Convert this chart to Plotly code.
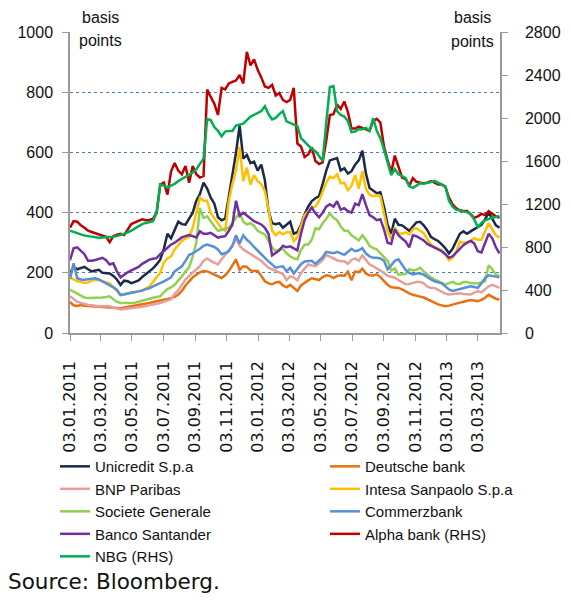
import pandas as pd
import plotly.graph_objects as go

START_DATE = "2011-01-03"
N_WEEKS = 120
dates = pd.date_range(START_DATE, periods=N_WEEKS, freq="7D")

unicredit = [199, 220, 212, 215, 220, 212, 205, 208, 210, 200,
             199, 198, 190, 178, 160, 174, 172, 166, 170, 175,
             186, 195, 204, 215, 228, 244, 280, 330, 315, 340,
             370, 362, 360, 380, 400, 440, 462, 500, 480, 450,
             430, 385, 375, 380, 450, 520, 600, 690, 580, 592,
             565, 570, 540, 560, 508, 405, 365, 362, 365, 350,
             360, 370, 330, 335, 360, 395, 420, 439, 448, 455,
             495, 540, 574, 578, 582, 540, 548, 530, 538, 560,
             574, 606, 530, 482, 472, 465, 468, 420, 360, 330,
             380, 360, 358, 350, 340, 354, 368, 370, 358, 342,
             320, 312, 306, 295, 282, 265, 280, 305, 330, 338,
             330, 338, 345, 352, 360, 378, 400, 380, 358, 350]

deutsche = [103, 92, 90, 93, 91, 90, 89, 88, 87, 87,
            86, 85, 85, 84, 82, 85, 87, 88, 90, 92,
            94, 97, 100, 103, 105, 107, 110, 113, 116, 120,
            128, 140, 158, 172, 185, 194, 202, 206, 205, 200,
            194, 188, 183, 192, 206, 225, 245, 210, 222, 220,
            208, 206, 206, 190, 172, 165, 162, 168, 170, 158,
            152, 160, 150, 140, 158, 168, 175, 182, 178, 176,
            186, 192, 190, 183, 190, 192, 190, 204, 175, 205,
            202, 214, 198, 192, 191, 195, 186, 172, 160, 152,
            150, 150, 145, 138, 132, 127, 123, 121, 118, 112,
            107, 101, 95, 92, 89, 91, 95, 98, 101, 104,
            107, 110, 108, 106, 110, 117, 127, 120, 114, 111]

bnp = [122, 112, 104, 100, 96, 93, 92, 90, 89, 89,
       89, 89, 85, 82, 78, 80, 82, 83, 84, 86,
       87, 89, 92, 95, 97, 100, 104, 108, 112, 130,
       142, 160, 178, 190, 200, 212, 222, 240, 248, 240,
       234, 228, 245, 260, 272, 290, 315, 290, 278, 270,
       263, 255, 248, 240, 228, 217, 212, 206, 200, 196,
       176, 188, 185, 175, 200, 216, 228, 225, 222, 232,
       242, 260, 254, 248, 242, 239, 239, 230, 243, 248,
       240, 258, 242, 228, 222, 215, 208, 200, 190, 188,
       184, 176, 168, 162, 163, 167, 170, 170, 165, 154,
       150, 150, 144, 139, 131, 128, 129, 132, 132, 130,
       128, 128, 134, 139, 135, 145, 155, 160, 156, 150]

intesa = [185, 178, 172, 170, 167, 168, 175, 176, 177, 172,
          168, 165, 152, 138, 127, 130, 133, 135, 136, 138,
          142, 148, 155, 170, 185, 200, 235, 248, 255, 278,
          292, 306, 314, 320, 350, 400, 450, 440, 440, 398,
          380, 362, 348, 340, 440, 495, 540, 620, 505, 550,
          494, 525, 505, 495, 472, 410, 340, 325, 336, 328,
          335, 335, 305, 320, 355, 392, 405, 417, 420, 440,
          470, 500, 520, 515, 528, 498, 500, 475, 490, 525,
          480, 539, 478, 460, 455, 458, 455, 400, 340, 312,
          350, 332, 330, 335, 328, 345, 348, 340, 332, 312,
          294, 286, 280, 275, 262, 242, 250, 270, 304, 300,
          302, 306, 315, 310, 310, 339, 365, 345, 325, 317]

societe = [144, 138, 132, 125, 118, 116, 116, 116, 116, 118,
           120, 122, 112, 104, 100, 100, 100, 100, 101, 104,
           108, 111, 114, 117, 120, 122, 135, 146, 152, 160,
           175, 188, 205, 218, 255, 300, 415, 383, 388, 370,
           355, 340, 342, 346, 350, 366, 383, 400, 370, 361,
           365, 356, 340, 334, 328, 306, 285, 272, 278, 280,
           265, 255, 248, 245, 276, 294, 294, 310, 348, 345,
           365, 380, 398, 383, 375, 355, 340, 340, 325, 317,
           308, 325, 310, 290, 282, 278, 265, 254, 240, 208,
           215, 194, 194, 196, 212, 208, 210, 217, 205, 194,
           185, 178, 172, 166, 161, 166, 170, 164, 163, 170,
           170, 166, 165, 165, 168, 172, 225, 212, 194, 190]

commerzbank = [180, 232, 182, 178, 177, 178, 180, 182, 178, 172,
               166, 160, 152, 144, 126, 128, 132, 134, 136, 138,
               141, 146, 149, 155, 160, 166, 172, 178, 185, 205,
               215, 222, 240, 260, 265, 272, 280, 290, 294, 290,
               286, 278, 262, 266, 272, 290, 325, 298, 325, 310,
               300, 286, 275, 262, 250, 238, 228, 217, 220, 222,
               205, 217, 198, 212, 229, 238, 238, 240, 230, 240,
               252, 270, 268, 265, 270, 266, 260, 270, 280, 272,
               275, 282, 264, 255, 250, 250, 248, 240, 212, 225,
               240, 245, 228, 210, 200, 195, 198, 198, 194, 185,
               178, 172, 168, 165, 155, 145, 140, 143, 146, 150,
               152, 155, 153, 150, 165, 183, 192, 190, 188, 185]

santander = [242, 282, 285, 275, 262, 240, 240, 243, 246, 250,
             242, 228, 232, 205, 185, 195, 202, 208, 214, 220,
             230, 238, 244, 247, 249, 262, 272, 284, 294, 300,
             310, 318, 322, 326, 322, 318, 338, 330, 330, 333,
             325, 317, 320, 322, 340, 360, 440, 390, 400, 390,
             380, 372, 366, 361, 350, 330, 258, 268, 275, 290,
             285, 288, 280, 275, 330, 375, 400, 417, 398, 385,
             400, 420, 428, 420, 438, 410, 415, 405, 400, 430,
             425, 462, 425, 392, 385, 375, 378, 345, 300, 296,
             345, 325, 314, 304, 285, 325, 322, 316, 308, 296,
             290, 284, 278, 272, 262, 250, 255, 268, 282, 292,
             300, 306, 298, 272, 268, 300, 330, 315, 285, 265]

alpha_rhs = [980, 1042, 1036, 1002, 980, 952, 941, 930, 918, 910,
             896, 846, 902, 916, 924, 913, 966, 1014, 1030, 1042,
             1058, 1050, 1053, 1064, 1120, 1383, 1400, 1288, 1506, 1582,
             1512, 1478, 1554, 1400, 1554, 1478, 1448, 1462, 2268, 2198,
             2134, 2030, 2282, 2268, 2324, 2338, 2352, 2402, 2324, 2618,
             2492, 2548, 2450, 2380, 2296, 2282, 2310, 2212, 2234, 2170,
             2150, 2170, 2282, 1764, 1736, 1638, 1663, 1728, 1602, 1574,
             1588, 1792, 2030, 2038, 2128, 2086, 2156, 2058, 1904, 1904,
             1921, 1910, 1898, 1882, 1974, 1994, 1960, 1736, 1610, 1498,
             1652, 1540, 1448, 1434, 1372, 1442, 1408, 1400, 1394, 1400,
             1414, 1400, 1383, 1383, 1361, 1260, 1198, 1162, 1142, 1137,
             1137, 1106, 1072, 1086, 1109, 1098, 1134, 1109, 1086, 1072]

nbg_rhs = [952, 941, 924, 916, 907, 902, 896, 890, 888, 890,
           890, 890, 896, 902, 910, 924, 938, 952, 974, 997,
           1014, 1025, 1036, 1042, 1120, 1383, 1372, 1355, 1372, 1389,
           1414, 1434, 1448, 1473, 1495, 1526, 1574, 1624, 1991, 1982,
           1918, 1882, 1831, 1876, 1882, 1882, 1932, 1938, 1949, 1982,
           2016, 2030, 2050, 2066, 2111, 2038, 1988, 2002, 2038, 2066,
           1971, 1954, 1943, 1926, 1814, 1778, 1742, 1714, 1694, 1652,
           1602, 1960, 2290, 2300, 2066, 2030, 2016, 1974, 1870, 1876,
           1898, 1898, 1910, 1882, 2002, 1882, 1814, 1708, 1582, 1470,
           1526, 1478, 1462, 1442, 1366, 1352, 1372, 1394, 1389, 1394,
           1406, 1417, 1400, 1383, 1366, 1232, 1176, 1148, 1142, 1134,
           1126, 1106, 1058, 986, 1025, 1050, 1064, 1075, 1081, 1089]

# (name, values, colour, axis, legend column)
series = [
    ("Unicredit S.p.a", unicredit, "#1b2a47", "y", "legend"),
    ("Deutsche bank", deutsche, "#e8700e", "y", "legend2"),
    ("BNP Paribas", bnp, "#e6a09c", "y", "legend"),
    ("Intesa Sanpaolo S.p.a", intesa, "#ffc000", "y", "legend2"),
    ("Societe Generale", societe, "#92d050", "y", "legend"),
    ("Commerzbank", commerzbank, "#5590d8", "y", "legend2"),
    ("Banco Santander", santander, "#7030a0", "y", "legend"),
    ("Alpha bank (RHS)", alpha_rhs, "#c00000", "y2", "legend2"),
    ("NBG (RHS)", nbg_rhs, "#00b050", "y2", "legend"),
]

fig = go.Figure()
for name, vals, color, ax, leg in series:
    fig.add_trace(go.Scatter(x=dates, y=vals, name=name, mode="lines",
                             line=dict(color=color, width=2.5), yaxis=ax,
                             legend=leg))

axis_col = "#9a9a9a"
txt_col = "#111111"
leg_font = dict(family="Liberation Sans", size=15, color=txt_col)
fig.update_layout(
    width=563, height=601,
    margin=dict(l=62, r=71, t=24, b=276, autoexpand=False),
    paper_bgcolor="white", plot_bgcolor="white",
    showlegend=True,
    xaxis=dict(type="date", range=["2011-01-03", "2013-04-16"],
               tick0="2011-01-03", dtick="M2", tickformat="%d.%m.%Y",
               tickangle=-90, ticks="outside", ticklen=6, tickcolor=axis_col,
               showline=True, linecolor=axis_col, linewidth=1.5,
               showgrid=False, zeroline=False, automargin=False,
               tickfont=dict(family="DejaVu Sans", size=16, color=txt_col),
               ticklabelstandoff=14),
    yaxis=dict(range=[0, 1001], tickvals=[0, 200, 400, 600, 800, 1000],
               ticks="outside", ticklen=6,
               tickcolor=axis_col, showline=True, linecolor=axis_col, linewidth=1.5,
               showgrid=True, gridcolor="#4a7ebb", griddash="dot", gridwidth=1,
               zeroline=False, automargin=False,
               tickfont=dict(family="Liberation Sans", size=16, color=txt_col),
               ticklabelstandoff=6),
    yaxis2=dict(range=[0, 2802.8], tickvals=[0, 400, 800, 1200, 1600, 2000, 2400, 2800],
                overlaying="y", side="right",
                ticks="outside", ticklen=6, tickcolor=axis_col,
                showline=True, linecolor=axis_col, linewidth=1.5,
                showgrid=False, zeroline=False, automargin=False,
                tickfont=dict(family="Liberation Sans", size=16, color=txt_col),
                ticklabelstandoff=14),
    legend=dict(orientation="v", x=-0.035, xanchor="left", y=-0.389, yanchor="top",
                itemwidth=30, font=leg_font, bgcolor="rgba(0,0,0,0)",
                tracegroupgap=0, traceorder="normal"),
    legend2=dict(orientation="v", x=0.593, xanchor="left", y=-0.389, yanchor="top",
                 itemwidth=30, font=leg_font, bgcolor="rgba(0,0,0,0)",
                 tracegroupgap=0, traceorder="normal"),
    annotations=[
        dict(text="basis", xref="paper", yref="paper", x=0.070, y=1.0498,
             xanchor="center", yanchor="middle", showarrow=False,
             font=dict(family="Liberation Sans", size=16, color=txt_col)),
        dict(text="points", xref="paper", yref="paper", x=0.072, y=0.9734,
             xanchor="center", yanchor="middle", showarrow=False,
             font=dict(family="Liberation Sans", size=16, color=txt_col)),
        dict(text="basis", xref="paper", yref="paper", x=0.935, y=1.0498,
             xanchor="center", yanchor="middle", showarrow=False,
             font=dict(family="Liberation Sans", size=16, color=txt_col)),
        dict(text="points", xref="paper", yref="paper", x=0.937, y=0.970,
             xanchor="center", yanchor="middle", showarrow=False,
             font=dict(family="Liberation Sans", size=16, color=txt_col)),
        dict(text="Source: Bloomberg.", xref="paper", yref="paper", x=-0.149, y=-0.8272,
             xanchor="left", yanchor="middle", showarrow=False,
             font=dict(family="DejaVu Sans", size=21.5, color=txt_col)),
    ],
)

fig.write_html("out.html")
